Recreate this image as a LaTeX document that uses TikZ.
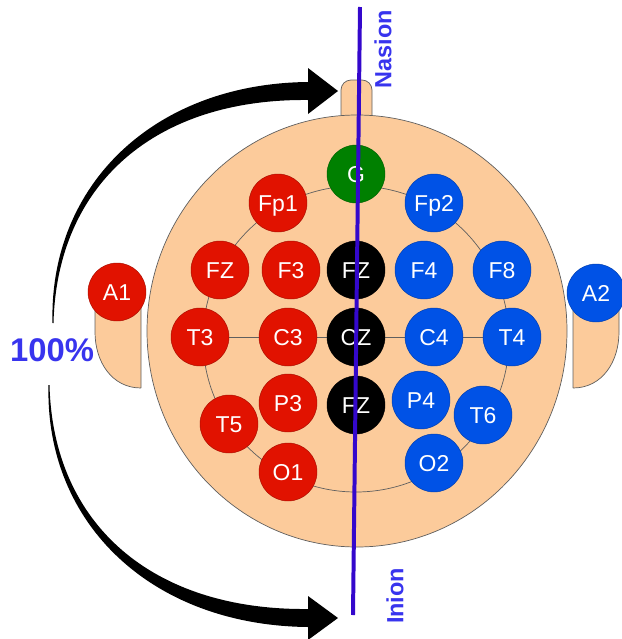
\documentclass[tikz,border=0pt]{standalone}
\usepackage{fontspec}
\setmainfont{Liberation Sans}
\usetikzlibrary{backgrounds}

\definecolor{skin}{RGB}{252,203,155}
\definecolor{outline}{RGB}{95,95,95}
\definecolor{elred}{RGB}{225,18,0}
\definecolor{elblue}{RGB}{0,82,230}
\definecolor{elgreen}{RGB}{0,128,0}
\definecolor{midline}{RGB}{52,8,204}
\definecolor{tagblue}{RGB}{56,52,238}

\begin{document}
\begin{tikzpicture}[x=0.03cm,y=-0.03cm,
  elec/.style={circle,minimum size=1.74cm,inner sep=0pt,fill=#1,draw=#1!75!black,
    line width=0.4pt,text=white,font=\fontsize{19.6}{20}\selectfont,
    text height=14pt,text depth=0pt},
  tag/.style={text=tagblue,font=\fontsize{20}{22}\selectfont\bfseries,
    text height=14.3pt,text depth=0pt,rotate=90}]
\useasboundingbox (0,0) rectangle (622,639);

% electrodes
\node[elec=elgreen] (G) at (356,174) {G};
\node[elec=elred] (Fp1) at (278,203) {Fp1};
\node[elec=elblue] (Fp2) at (434,203) {Fp2};
\node[elec=elred] (Fzl) at (220,270) {FZ};
\node[elec=elred] (F3) at (291,270) {F3};
\node[elec=black] (Fz) at (356,270) {FZ};
\node[elec=elblue] (F4) at (424,270) {F4};
\node[elec=elblue] (F8) at (502,270) {F8};
\node[elec=elred] (A1) at (117,292) {A1};
\node[elec=elblue] (A2) at (596,293) {A2};
\node[elec=elred] (T3) at (200,337) {T3};
\node[elec=elred] (C3) at (288,337) {C3};
\node[elec=black] (Cz) at (356,337) {CZ};
\node[elec=elblue] (C4) at (434,337) {C4};
\node[elec=elblue] (T4) at (512,337) {T4};
\node[elec=elred] (P3) at (288,403) {P3};
\node[elec=black] (Pz) at (356,405) {FZ};
\node[elec=elblue] (P4) at (421,400) {P4};
\node[elec=elred] (T5) at (229,424) {T5};
\node[elec=elblue] (T6) at (483,415) {T6};
\node[elec=elred] (O1) at (288,472) {O1};
\node[elec=elblue] (O2) at (434,463) {O2};

% head, ears and nose go underneath
\begin{scope}[on background layer]
\draw [outline,fill=skin,line width=0.6pt] (141,388) -- (141,285) -- (95,285) -- (95,332)
  .. controls (95,362) and (112,388) .. (141,388);
\draw [outline,fill=skin,line width=0.6pt] (573,388) -- (573,285) -- (619,285) -- (619,332)
  .. controls (619,362) and (602,388) .. (573,388);
\draw [outline,fill=skin,line width=0.6pt,rounded corners=0.3cm] (341,125) -- (341,80) -- (372,80) -- (372,125);
\draw [outline,fill=skin,line width=0.6pt] (357,331) ellipse [x radius=210,y radius=216];
\draw [outline,line width=0.6pt] (356,339) circle [radius=153];
\draw [outline,line width=0.6pt] (T3) -- (T4);
\end{scope}

% 100% arrows
\fill (52.5,323) .. controls (49,184) and (155,83.5) .. (308,82) -- (308,68) -- (338,91)
  -- (308,114) -- (308,100) .. controls (155,98.5) and (57,184) .. (53.5,323) -- cycle;
\fill (48.5,385) .. controls (45,525) and (153,625.5) .. (308,627) -- (308,640) -- (338,618)
  -- (308,596) -- (308,609) .. controls (153,610.5) and (53,525) .. (49.5,385) -- cycle;

% nasion - inion line
\coordinate (nasion) at (360,7);
\coordinate (inion) at (353,615);
\draw [midline,line width=3.4pt] (nasion) -- (inion);

\node[tag] (tnasion) at (383,49) {Nasion};
\node[tag] (tinion) at (395,596) {Inion};
\node[text=tagblue,font=\fontsize{28}{30}\selectfont\bfseries,text height=20pt,text depth=0pt]
  (pct) at (52,350) {100\%};
\end{tikzpicture}
\end{document}
